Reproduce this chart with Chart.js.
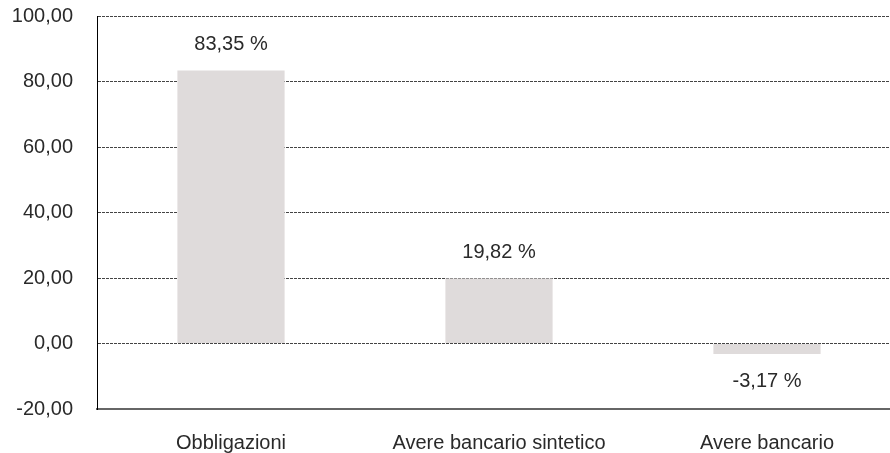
<!DOCTYPE html>
<html>
<head>
<meta charset="utf-8">
<script src="https://cdn.jsdelivr.net/npm/chart.js@4/dist/chart.umd.min.js"></script>
<style>
    html, body { margin: 0; padding: 0; background: #fff; overflow: hidden; }
    #wrap { width: 901px; height: 453px; }
</style>
</head>
<body>
<div id="wrap"><canvas id="chart"></canvas></div>
<script>
const categories = ['Obbligazioni', 'Avere bancario sintetico', 'Avere bancario'];
const values = [83.35, 19.82, -3.17];
const yTicks = [-20, 0, 20, 40, 60, 80, 100];

const fmt = (v) => v.toFixed(2).replace('.', ',');
const fontFamily = '"Liberation Sans", Arial, sans-serif';

// labels above / below bars
const valueLabels = {
    id: 'valueLabels',
    afterDatasetsDraw(chart) {
        const ctx = chart.ctx;
        const meta = chart.getDatasetMeta(0);
        ctx.save();
        ctx.font = '20px ' + fontFamily;
        ctx.fillStyle = '#2a2a2a';
        ctx.textAlign = 'center';
        ctx.textBaseline = 'middle';
        meta.data.forEach((bar, i) => {
            const v = values[i];
            const y = v >= 0 ? bar.y - 26 : bar.y + 28;
            ctx.fillText(fmt(v) + ' %', bar.x, y);
        });
        ctx.restore();
    }
};

new Chart(document.getElementById('chart'), {
    type: 'bar',
    data: {
        labels: categories,
        datasets: [{
            data: values,
            backgroundColor: '#dfdbdb',
            barPercentage: 0.8,
            categoryPercentage: 0.5
        }]
    },
    options: {
        responsive: true,
        maintainAspectRatio: false,
        animation: false,
        layout: { padding: { top: 16, left: 0, right: 0, bottom: 0 } },
        plugins: { legend: { display: false }, tooltip: { enabled: false } },
        scales: {
            x: {
                grid: { display: false, drawTicks: false },
                border: { display: true, color: '#666', width: 2 },
                ticks: { color: '#2a2a2a', padding: 22, font: { size: 20, family: fontFamily } },
                afterFit: (axis) => { axis.height = 44; }
            },
            y: {
                min: -20,
                max: 100,
                afterBuildTicks: (axis) => { axis.ticks = yTicks.map(v => ({ value: v })); },
                grid: { color: '#444', lineWidth: 1, drawTicks: false },
                border: { display: true, color: '#000', width: 1, dash: [3, 1] },
                ticks: {
                    color: '#2a2a2a',
                    padding: 24,
                    font: { size: 20, family: fontFamily },
                    callback: (v) => fmt(v)
                },
                afterFit: (axis) => {
                    axis.width = 97;
                    axis.paddingTop = 0;
                    axis.paddingBottom = 0;
                }
            }
        }
    },
    plugins: [valueLabels]
});
</script>
</body>
</html>
